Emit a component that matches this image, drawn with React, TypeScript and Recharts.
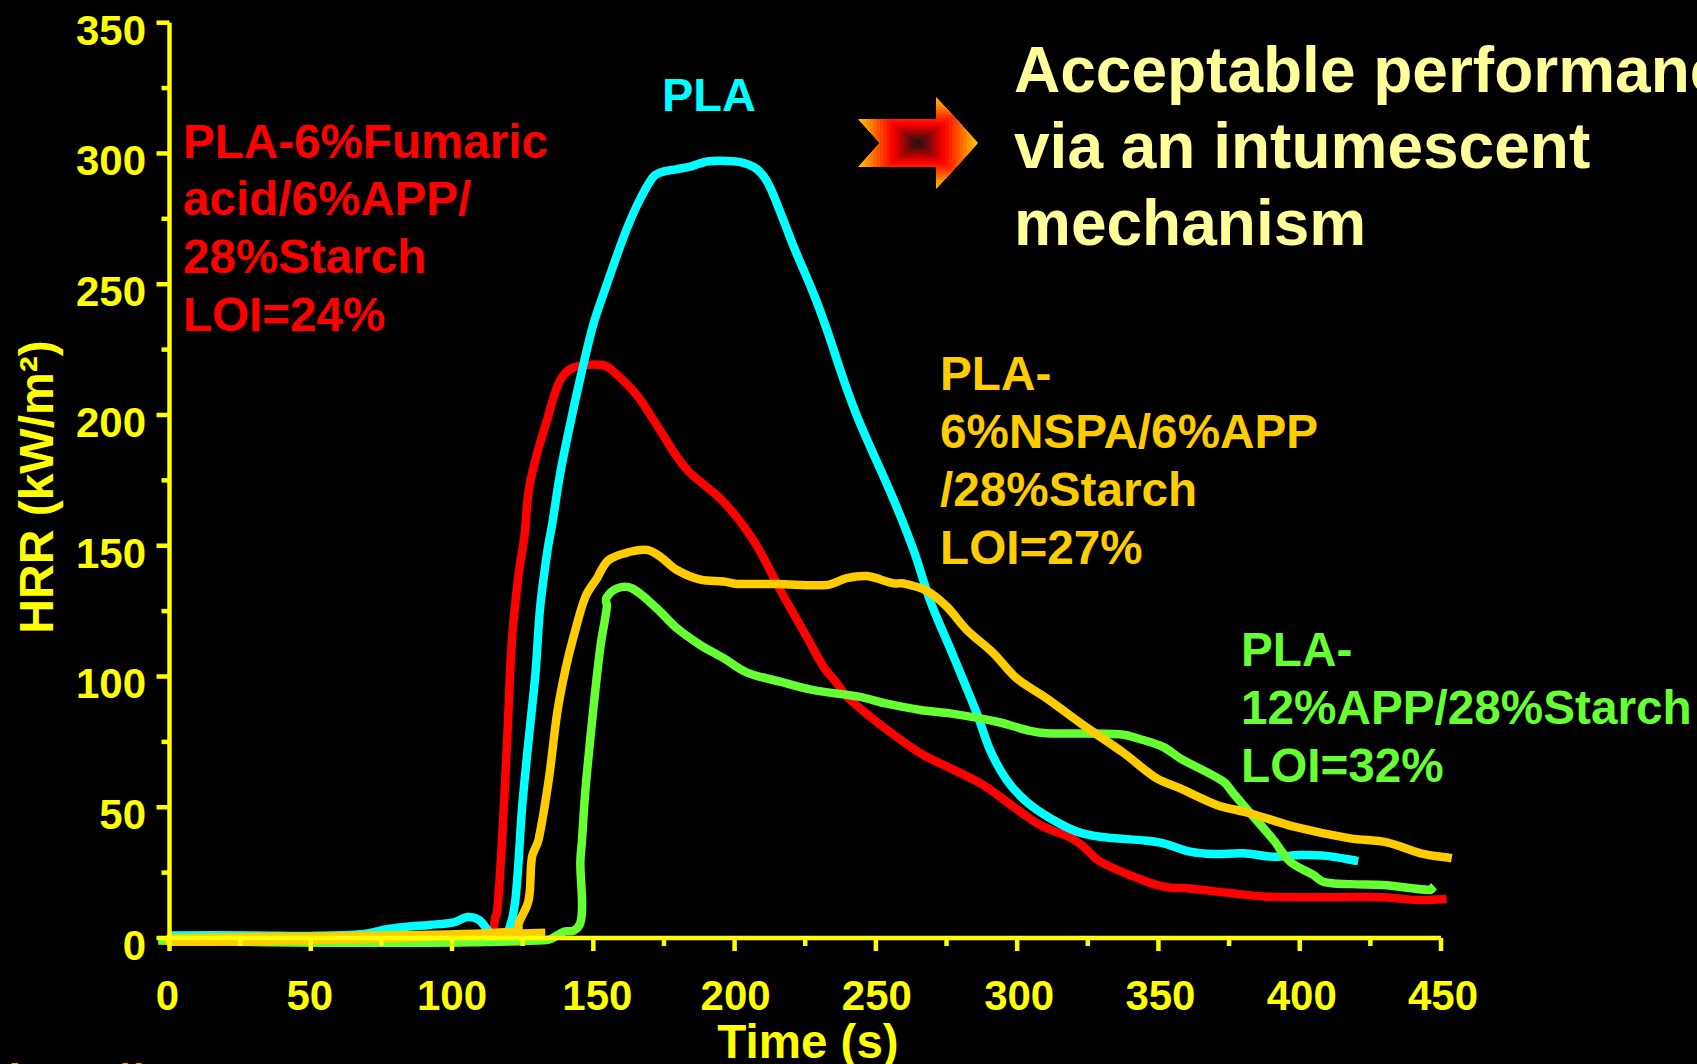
// HRR vs time for the PLA formulations, on a black slide background.
import { Line, LineChart, XAxis, YAxis } from "recharts";

type Pt = [number, number];

const xTicks = [0, 25, 50, 75, 100, 125, 150, 175, 200, 225, 250, 275, 300, 325, 350, 375, 400, 425, 450];
const yTicks = [0, 25, 50, 75, 100, 125, 150, 175, 200, 225, 250, 275, 300, 325, 350];
// the slide's tick labels were placed by hand, a few px off their ticks
const xLabelNudge: Record<number, number> = { 0: -2, 50: -1, 100: 0, 150: 4, 200: 1, 250: 1, 300: 2, 350: 2, 400: 2, 450: 2 };

const plaHrr: Pt[] = [
  [0, 1], [30, 1], [50, 0.8], [68.6, 1.5], [77, 3.4], [84, 4.3], [92, 5], [100.6, 6], [105.4, 8], [109.4, 7],
  [112.4, 3.4], [114, 1.5], [117, 0.8], [120, 3], [122.4, 14.5], [124.8, 50], [127.1, 75.7], [129.5, 101],
  [131.2, 126.7], [133.8, 148.4], [135.4, 158], [138.3, 177.8], [141.9, 197], [146, 217], [150.1, 235],
  [154.8, 250], [160.7, 268], [165.4, 280], [170.8, 290.5], [173.7, 292.7], [179.6, 294], [184.3, 295],
  [190.8, 297], [199.6, 297], [204.4, 296], [207.9, 294], [210.8, 290.5], [213.8, 284], [220.9, 264.4],
  [227.9, 246.5], [232.7, 232.5], [238.6, 213.4], [243.9, 198], [256.3, 167.5], [263.3, 148.4], [269.2, 129],
  [277.5, 107.6], [285.7, 86], [290.4, 71.9], [296.3, 60.4], [303.4, 52], [311.7, 45.8], [321.1, 40.7],
  [329.4, 38.7], [345.9, 37.2], [351.8, 36.2], [361.2, 33], [369.5, 32.1], [380, 32.4], [390.7, 31.1],
  [400, 31.7], [409.5, 31.4], [420.7, 29.4],
];

const fumaricHrr: Pt[] = [
  [12, -1], [60, -1], [100, -1.2], [110, -1.5], [113, -1], [114.5, 2], [115.3, 8], [115.9, 9.4], [117.7, 37.5],
  [119.5, 75.7], [121.2, 114], [123.6, 139.5], [125.6, 153.5], [127.1, 171], [129.5, 182.8], [133.6, 198],
  [137.7, 212], [141.3, 217.2], [146.6, 219], [153.6, 219], [157.2, 216.6], [165.4, 207.6], [173.7, 194],
  [179.6, 184], [184.3, 177.8], [196.1, 166.8], [206.7, 152], [216.2, 133], [225.6, 115], [231.5, 103.7],
  [236.2, 97.4], [239.7, 92.3], [248, 84.6], [259.8, 75], [266.8, 70], [286.9, 59.2], [298.7, 50.2],
  [308.1, 43.2], [318.7, 38.5], [323.5, 34.9], [329.4, 29.2], [345.9, 21.5], [353, 19.4], [360, 19], [376.9, 17],
  [388.3, 15.8], [412, 15.6], [429.6, 15.6], [441.5, 14.5], [452, 14.9],
];

const nspaHrr: Pt[] = [
  [133, 2], [65, -0.5], [0, -1.4], [0, -0.2], [65, 0.8], [123, 2.5], [123.6, 5.6], [127.1, 14.5], [128.3, 31],
  [130.6, 37.5], [134.2, 60.4], [137.2, 86], [140.1, 102.5], [143, 115.2], [147.2, 130.5], [151.3, 137.6],
  [155.4, 144.5], [163.1, 147.7], [169, 148.4], [173.7, 145.8], [179.6, 140.7], [187.9, 137], [196.1, 136.3],
  [200.8, 135.4], [215, 135.4], [232.7, 135], [239.7, 137.6], [246.8, 138.4], [256.3, 135.6], [259.8, 135.6],
  [268, 132.8], [275.1, 126.7], [282.2, 117.8], [291.6, 108.9], [299.8, 99.3], [310.4, 91.7], [322.6, 82],
  [337.9, 70.6], [349.4, 61], [357.7, 57.2], [370.6, 50.9], [382.4, 47.7], [398, 42.6], [417.8, 38.1],
  [430.8, 36.6], [442.8, 32.4], [453.8, 30.5],
];

const appHrr: Pt[] = [
  [-4, -1], [65, -1.8], [133.6, -0.8], [139.5, 2.4], [143, 2.8], [145.4, 5.7], [146, 13.4], [145.4, 28.6],
  [146, 37.5], [147.2, 56.6], [150.1, 88.5], [152.5, 111.4], [154.8, 126.7], [154.6, 130], [158.4, 133.7],
  [163.7, 133.7], [172.5, 126], [179.6, 118.4], [187.9, 112], [196.1, 107], [204.4, 101.5], [216.2, 98],
  [227.9, 94.8], [243.9, 92.3], [253.5, 89.7], [265.7, 87.2], [276.3, 85.9], [292.8, 82.7], [304.6, 79.2],
  [310.4, 78.3], [336.4, 77.9], [344.6, 75.7], [351.8, 73], [357.7, 68.7], [372.9, 59.9], [376.5, 55.3],
  [383.6, 46.4], [390.7, 37.5], [396.6, 29.2], [404.8, 24.1], [408.4, 21.5], [417.8, 20.6], [429.6, 20.3],
  [446.1, 18.4], [447.5, 19.8],
];

const toRows = (pts: Pt[]) => pts.map(([t, hrr]) => ({ t, hrr }));

const YELLOW = "#FFFF00";
const FONT = "'Liberation Sans', Arial, sans-serif";

// hand-drawn looking curve; the orange trace doubles back in x so monotone won't do
function smoothCurve(ctx: any) {
  let pts: number[][] = [];
  return {
    areaStart() {},
    areaEnd() {},
    lineStart() {
      pts = [];
    },
    point(x: number, y: number) {
      pts.push([+x, +y]);
    },
    lineEnd() {
      const tangent = (i: number) => {
        const a = pts[Math.max(i - 1, 0)];
        const b = pts[Math.min(i + 1, pts.length - 1)];
        const d = Math.hypot(b[0] - a[0], b[1] - a[1]) || 1;
        return [(b[0] - a[0]) / d, (b[1] - a[1]) / d];
      };
      pts.forEach((p, i) => {
        if (i === 0) {
          ctx.moveTo(p[0], p[1]);
          return;
        }
        const q = pts[i - 1];
        const len = Math.hypot(p[0] - q[0], p[1] - q[1]) / 3;
        const t0 = tangent(i - 1);
        const t1 = tangent(i);
        ctx.bezierCurveTo(q[0] + t0[0] * len, q[1] + t0[1] * len, p[0] - t1[0] * len, p[1] - t1[1] * len, p[0], p[1]);
      });
    },
  };
}

function XTick({ x, y, payload }: any) {
  const major = payload.value % 50 === 0;
  return (
    <g>
      <line x1={x} x2={x} y1={y} y2={y + (major ? 13 : 8)} stroke={YELLOW} strokeWidth={4.5} />
      {major && (
        <text x={x + xLabelNudge[payload.value]} y={y + 72} textAnchor="middle" fill={YELLOW} fontSize={42} fontWeight={700} fontFamily={FONT}>
          {payload.value}
        </text>
      )}
    </g>
  );
}

function YTick({ x, y, payload }: any) {
  const major = payload.value % 50 === 0;
  return (
    <g>
      <line x1={x} x2={x - (major ? 13 : 8)} y1={y} y2={y} stroke={YELLOW} strokeWidth={4.5} />
      {major && (
        <text x={146} y={y + 22} textAnchor="end" fill={YELLOW} fontSize={42} fontWeight={700} fontFamily={FONT}>
          {payload.value}
        </text>
      )}
    </g>
  );
}

// path-gradient arrow: rectangles shrinking to the dark middle, clipped to the outline
const arrowShape = "858,119 936,119 936,97 978,143 936,189 936,167 858,167 880,143";
const arrowBands = [
  "#FFCC00", "#FFB800", "#FFA400", "#FF9000", "#FF7C00", "#FF6600", "#FF5000", "#FF3C00", "#FF2800", "#FF1400",
  "#FF0000", "#E60000", "#C80000", "#A80404", "#880808", "#680A0A", "#4A0C0C", "#301010",
];

function Arrow() {
  return (
    <>
      <defs>
        <clipPath id="arrowClip">
          <polygon points={arrowShape} />
        </clipPath>
      </defs>
      <g clipPath="url(#arrowClip)">
        {arrowBands.map((c, i) => {
          const k = 1 - i / arrowBands.length;
          return <rect key={c} x={918 - 62 * k} y={143 - 47 * k} width={124 * k} height={94 * k} fill={c} />;
        })}
      </g>
    </>
  );
}

function TextBlock({ x, y, step, size, color, lines }: { x: number; y: number; step: number; size: number; color: string; lines: string[] }) {
  return (
    <>
      {lines.map((s, i) => (
        <text key={s} x={x} y={y + i * step} fill={color} fontSize={size} fontWeight={700} fontFamily={FONT}>
          {s}
        </text>
      ))}
    </>
  );
}

const lineProps = { dataKey: "hrr", type: smoothCurve as any, strokeWidth: 8.5, dot: false, strokeLinejoin: "round" as const, isAnimationActive: false };

export default function App() {
  return (
    <div style={{ position: "fixed", left: 0, top: 0, width: 1697, height: 1064, background: "#000", overflow: "hidden" }}>
      {/* traces run a little past the axis ends in the original, so no clipping */}
      <style>{".recharts-wrapper [clip-path]{clip-path:none}"}</style>
      <div style={{ position: "absolute", left: 0, top: 0 }}>
        <LineChart width={1697} height={1064} margin={{ top: 22.7, right: 256, bottom: 66, left: 69.5 }}>
          <XAxis
            dataKey="t"
            type="number"
            domain={[0, 450]}
            allowDataOverflow
            ticks={xTicks}
            interval={0}
            height={60}
            tickLine={false}
            tickSize={0}
            tickMargin={0}
            tick={<XTick />}
            axisLine={{ stroke: YELLOW, strokeWidth: 4.5 }}
          />
          <YAxis
            dataKey="hrr"
            type="number"
            domain={[0, 350]}
            allowDataOverflow
            ticks={yTicks}
            interval={0}
            width={100}
            tickLine={false}
            tickSize={0}
            tickMargin={0}
            tick={<YTick />}
            axisLine={{ stroke: YELLOW, strokeWidth: 4.5 }}
          />
          <Line data={toRows(fumaricHrr)} stroke="#FF0000" {...lineProps} />
          <Line data={toRows(plaHrr)} stroke="#00FFFF" {...lineProps} />
          <Line data={toRows(appHrr)} stroke="#66FF33" {...lineProps} />
          <Line data={toRows(nspaHrr)} stroke="#FFCC00" {...lineProps} />
        </LineChart>
      </div>
      <svg width={1697} height={1064} style={{ position: "absolute", left: 0, top: 0, pointerEvents: "none" }}>
        <text x={808} y={1057.5} textAnchor="middle" fill={YELLOW} fontSize={47.5} fontWeight={700} fontFamily={FONT}>Time (s)</text>
        <text transform="translate(53,487) rotate(-90)" textAnchor="middle" fill={YELLOW} fontSize={48} fontWeight={700} fontFamily={FONT}>HRR (kW/m²)</text>
        <TextBlock x={183} y={157.5} step={57.7} size={47.6} color="#FF0000" lines={["PLA-6%Fumaric", "acid/6%APP/", "28%Starch", "LOI=24%"]} />
        <TextBlock x={662} y={111} step={0} size={47} color="#00FFFF" lines={["PLA"]} />
        <TextBlock x={940} y={389.5} step={58} size={47.7} color="#FFCC00" lines={["PLA-", "6%NSPA/6%APP", "/28%Starch", "LOI=27%"]} />
        <TextBlock x={1241} y={666} step={58} size={47.7} color="#66FF33" lines={["PLA-", "12%APP/28%Starch", "LOI=32%"]} />
        <TextBlock x={1014} y={91.5} step={76.5} size={64} color="#FFFF99" lines={["Acceptable performance", "via an intumescent", "mechanism"]} />
        <Arrow />
        <text x={4} y={1098} fill="#FF9900" fontSize={48} fontWeight={700} fontStyle="italic" fontFamily={FONT}>http://www.13net.96</text>
      </svg>
    </div>
  );
}
